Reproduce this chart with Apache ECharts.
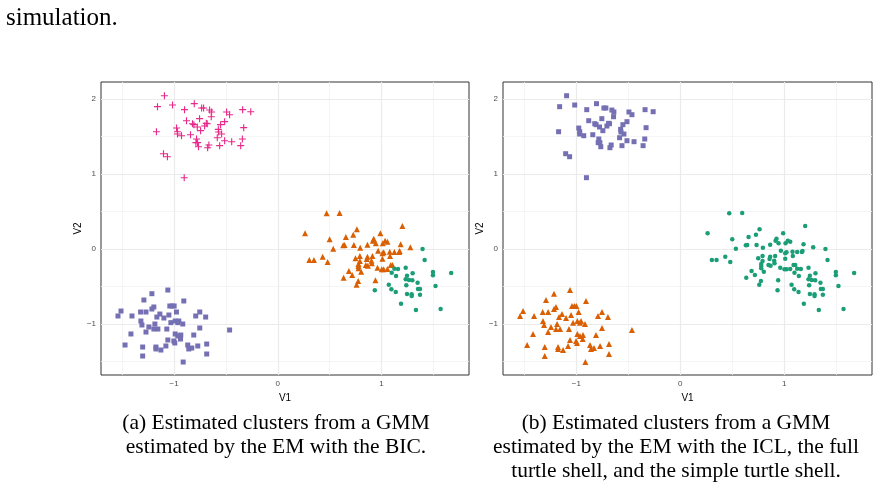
<!DOCTYPE html>
<html>
<head>
<meta charset="utf-8">
<script src="https://cdn.jsdelivr.net/npm/echarts@6/dist/echarts.min.js"></script>
<style>
  html, body { margin: 0; padding: 0; background: #fff; }
  #chart { width: 878px; height: 488px; }
</style>
</head>
<body>
<div id="chart"></div>
<script>
// same simulated points in both panels, only the cluster labels differ
const topLeftPts = [
  [-1.094, 2.044], [-1.161, 1.898], [-1.016, 1.92], [-0.806, 1.938], [-0.9, 1.858],
  [-0.735, 1.88], [-0.716, 1.88], [-0.658, 1.853], [-0.639, 1.827], [-0.494, 1.827],
  [-0.465, 1.791], [-0.339, 1.858], [-0.261, 1.831], [-0.642, 1.764], [-0.755, 1.738],
  [-0.881, 1.711], [-0.823, 1.671], [-0.81, 1.658], [-0.777, 1.627], [-0.706, 1.64],
  [-0.69, 1.676], [-0.681, 1.671], [-0.513, 1.698], [-0.552, 1.658], [-0.329, 1.618],
  [-0.977, 1.613], [-1.171, 1.564], [-0.968, 1.564], [-0.968, 1.533], [-0.929, 1.511],
  [-0.842, 1.524], [-0.745, 1.578], [-0.574, 1.596], [-0.571, 1.56], [-0.542, 1.533],
  [-0.584, 1.484], [-0.784, 1.467], [-0.79, 1.418], [-0.774, 1.418], [-0.665, 1.387],
  [-0.765, 1.364], [-0.677, 1.351], [-0.561, 1.378], [-0.513, 1.444], [-0.445, 1.431],
  [-0.342, 1.467], [-0.358, 1.378], [-1.103, 1.271], [-1.065, 1.231], [-0.903, 0.951]
];

const bottomLeftPts = [
  [-1.061, -0.547], [-1.215, -0.596], [-1.292, -0.68], [-0.907, -0.693], [-1.042, -0.76],
  [-1.019, -0.76], [-1.0, -0.76], [-1.196, -0.773], [-1.215, -0.8], [-1.513, -0.827],
  [-1.324, -0.84], [-1.272, -0.84], [-0.978, -0.84], [-0.753, -0.84], [-1.138, -0.867],
  [-1.051, -0.88], [-1.542, -0.893], [-1.407, -0.893], [-1.167, -0.907], [-1.099, -0.92],
  [-0.792, -0.893], [-0.696, -0.907], [-1.321, -0.96], [-0.99, -0.96], [-0.955, -0.96],
  [-1.032, -0.982], [-0.965, -0.982], [-1.186, -1.0], [-1.311, -1.013], [-0.917, -1.0],
  [-1.244, -1.04], [-1.196, -1.067], [-1.157, -1.067], [-1.071, -1.067], [-0.753, -1.053],
  [-0.465, -1.08], [-1.272, -1.107], [-1.417, -1.133], [-0.99, -1.133], [-0.936, -1.147],
  [-0.965, -1.16], [-0.811, -1.147], [-0.939, -1.2], [-1.061, -1.213], [-1.003, -1.227],
  [-0.994, -1.253], [-1.474, -1.28], [-1.304, -1.307], [-1.176, -1.307], [-1.176, -1.333],
  [-1.08, -1.293], [-1.128, -1.347], [-0.869, -1.28], [-0.859, -1.333], [-0.83, -1.32],
  [-0.772, -1.293], [-0.686, -1.267], [-1.304, -1.427], [-0.686, -1.4], [-0.913, -1.507]
];

const rightOrangePts = [
  [0.471, 0.476], [0.596, 0.48], [1.202, 0.307], [0.263, 0.209], [0.763, 0.262],
  [0.728, 0.191], [0.657, 0.16], [0.99, 0.209], [0.5, 0.129], [0.926, 0.138],
  [0.917, 0.111], [1.035, 0.111], [1.058, 0.098], [1.013, 0.076], [0.946, 0.076],
  [0.865, 0.058], [0.734, 0.053], [0.644, 0.053], [0.631, 0.049], [0.795, 0.018],
  [0.535, 0.004], [1.186, 0.062], [1.279, 0.022], [0.968, -0.022], [1.022, -0.044],
  [1.01, -0.058], [1.08, -0.036], [1.125, -0.04], [1.17, -0.04], [1.176, -0.027],
  [1.083, -0.093], [0.792, -0.093], [0.865, -0.102], [0.75, -0.124], [0.859, -0.133],
  [0.913, -0.093], [1.01, -0.129], [0.433, -0.102], [0.304, -0.147], [0.349, -0.147],
  [0.481, -0.173], [0.792, -0.16], [0.779, -0.2], [0.904, -0.156], [0.907, -0.191],
  [0.849, -0.213], [0.869, -0.222], [0.779, -0.227], [0.779, -0.258], [0.962, -0.249],
  [1.003, -0.271], [1.022, -0.271], [1.058, -0.267], [1.09, -0.213], [1.106, -0.213],
  [0.804, -0.302], [0.686, -0.293], [0.718, -0.347], [0.635, -0.382], [0.776, -0.427],
  [0.76, -0.476], [0.942, -0.418]
];

const rightGreenPts = [
  [1.397, 0.0], [1.417, -0.147], [1.125, -0.262], [1.16, -0.267], [1.234, -0.249],
  [1.099, -0.316], [1.301, -0.324], [1.141, -0.36], [1.247, -0.356], [1.234, -0.404],
  [1.266, -0.413], [1.298, -0.418], [1.349, -0.449], [1.497, -0.307], [1.497, -0.351],
  [1.673, -0.32], [1.071, -0.476], [1.24, -0.484], [1.522, -0.493], [0.936, -0.551],
  [1.096, -0.538], [1.138, -0.573], [1.353, -0.533], [1.372, -0.533], [1.247, -0.6],
  [1.292, -0.604], [1.292, -0.627], [1.372, -0.609], [1.189, -0.729], [1.333, -0.813],
  [1.571, -0.8]
];

const xMajorTicks = [-1, 0, 1];
const xMinorTicks = [-1.5, -0.5, 0.5, 1.5];
const yMajorTicks = [-1, 0, 1, 2];
const yMinorTicks = [-1.5, -0.5, 0.5, 1.5];

const captionA = ['(a) Estimated clusters from a GMM', 'estimated by the EM with the BIC.'];
const captionB = [
  '(b) Estimated clusters from a GMM',
  'estimated by the EM with the ICL, the full',
  'turtle shell, and the simple turtle shell.'
];

const pink = '#E7298A';
const orange = '#D95F02';
const purple = '#7570B3';
const green = '#1B9E77';
const plusPath = 'path://M4.2,0 L5.8,0 L5.8,4.2 L10,4.2 L10,5.8 L5.8,5.8 L5.8,10 L4.2,10 L4.2,5.8 L0,5.8 L0,4.2 L4.2,4.2 Z';

const chart = echarts.init(document.getElementById('chart'), null, { renderer: 'canvas' });

function minusSign(v) {
  return String(v).replace('-', '\u2212');
}

function makeXAxis(gridIndex) {
  return {
    type: 'value', gridIndex: gridIndex, min: -1.706, max: 1.845,
    name: 'V1', nameLocation: 'middle', nameGap: 13,
    nameTextStyle: { fontFamily: 'Liberation Sans', fontSize: 10, color: '#000' },
    axisLine: { show: false },
    axisTick: { show: true, customValues: xMajorTicks, length: 4, lineStyle: { color: '#333', width: 0.8 } },
    axisLabel: { customValues: xMajorTicks, formatter: minusSign, fontFamily: 'Liberation Sans', fontSize: 8, color: '#4d4d4d', margin: 5 },
    splitLine: { show: false }
  };
}

function makeYAxis(gridIndex) {
  return {
    type: 'value', gridIndex: gridIndex, min: -1.68, max: 2.227,
    name: 'V2', nameLocation: 'middle', nameGap: 14, nameRotate: 90,
    nameTextStyle: { fontFamily: 'Liberation Sans', fontSize: 10, color: '#000' },
    axisLine: { show: false },
    axisTick: { show: true, customValues: yMajorTicks, length: 4, lineStyle: { color: '#333', width: 0.8 } },
    axisLabel: { customValues: yMajorTicks, formatter: minusSign, fontFamily: 'Liberation Sans', fontSize: 8, color: '#4d4d4d', margin: 5 },
    splitLine: { show: false }
  };
}

// panel grid lines drawn as mark lines so they sit on the half/whole values
function gridLineSeries(idx) {
  const minor = { color: '#f3f3f3', width: 0.8, type: 'solid' };
  const major = { color: '#ebebeb', width: 1.2, type: 'solid' };
  const lines = [];
  xMinorTicks.forEach(v => lines.push({ xAxis: v, lineStyle: minor }));
  yMinorTicks.forEach(v => lines.push({ yAxis: v, lineStyle: minor }));
  xMajorTicks.forEach(v => lines.push({ xAxis: v, lineStyle: major }));
  yMajorTicks.forEach(v => lines.push({ yAxis: v, lineStyle: major }));
  return {
    type: 'line', xAxisIndex: idx, yAxisIndex: idx, data: [], z: 1,
    markLine: { z: 1, silent: true, symbol: 'none', label: { show: false }, animation: false, data: lines }
  };
}

function pts(data, idx, symbol, size, color) {
  return {
    type: 'scatter', xAxisIndex: idx, yAxisIndex: idx, data: data, z: 3,
    symbol: symbol, symbolSize: size, itemStyle: { color: color, opacity: 1 }
  };
}

function captionText(lines, cx) {
  return lines.map((t, i) => ({
    type: 'text', x: cx, y: 423 + i * 24,
    style: { text: t, font: '21.5px "Liberation Serif"', fill: '#000', textAlign: 'center', textVerticalAlign: 'middle' }
  }));
}

const options = {
  animation: false,
  backgroundColor: '#fff',
  grid: [
    { left: 101, top: 82, width: 368, height: 293, show: true, borderColor: '#333', borderWidth: 1, backgroundColor: '#fff' },
    { left: 503, top: 82, width: 369, height: 293, show: true, borderColor: '#333', borderWidth: 1, backgroundColor: '#fff' }
  ],
  xAxis: [makeXAxis(0), makeXAxis(1)],
  yAxis: [makeYAxis(0), makeYAxis(1)],
  series: [
    gridLineSeries(0),
    gridLineSeries(1),
    pts(topLeftPts, 0, plusPath, 7, pink),
    pts(rightOrangePts, 0, 'triangle', 6, orange),
    pts(rightGreenPts, 0, 'circle', 4.5, green),
    pts(bottomLeftPts, 0, 'rect', 5, purple),
    pts(topLeftPts, 1, 'rect', 5, purple),
    pts(bottomLeftPts, 1, 'triangle', 6, orange),
    pts(rightOrangePts.concat(rightGreenPts), 1, 'circle', 4.5, green)
  ],
  graphic: [
    { type: 'text', x: 6, y: 18.5, style: { text: 'simulation.', font: '25px "Liberation Serif"', fill: '#000', textVerticalAlign: 'middle' } }
  ].concat(captionText(captionA, 276), captionText(captionB, 676))
};

chart.setOption(options);
</script>
</body>
</html>
